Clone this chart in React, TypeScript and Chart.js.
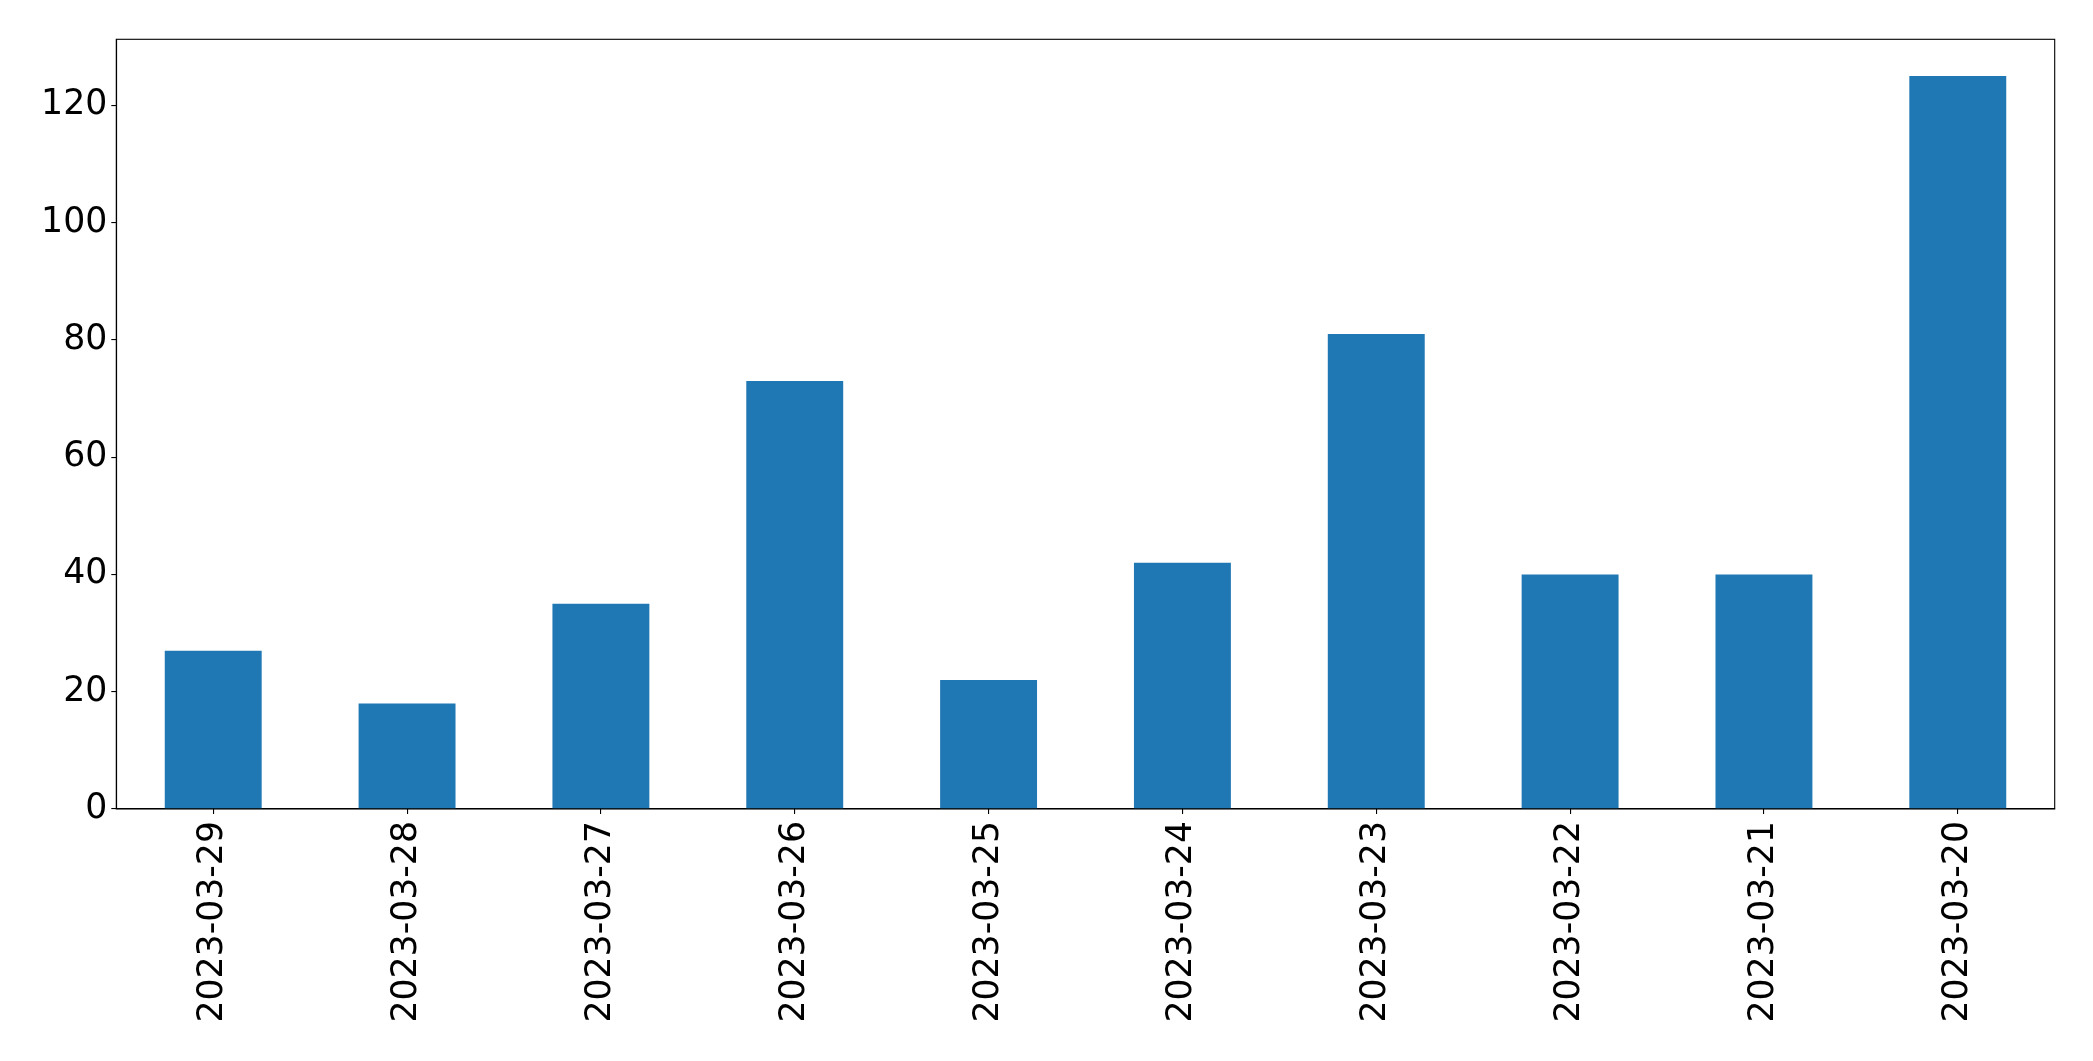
import React, { useEffect, useRef } from "react";
import { Chart, registerables } from "chart.js";

Chart.register(...registerables);

const categories = [
  "2023-03-29",
  "2023-03-28",
  "2023-03-27",
  "2023-03-26",
  "2023-03-25",
  "2023-03-24",
  "2023-03-23",
  "2023-03-22",
  "2023-03-21",
  "2023-03-20",
];
const counts = [27, 18, 35, 73, 22, 42, 81, 40, 40, 125];
const yTickStep = 20;
const yMax = 131.25;

const W = 2093;
const H = 1061;
const AREA_LEFT = 116.3;
const AREA_TOP = 39.3;
const AREA_RIGHT = 2054.7;
const AREA_BOTTOM = 809;

const frame = {
  id: "frame",
  afterDraw(chart: any) {
    const { ctx, chartArea } = chart;
    ctx.save();
    ctx.strokeStyle = "#000";
    ctx.lineWidth = 1.1;
    ctx.strokeRect(
      chartArea.left,
      chartArea.top,
      chartArea.right - chartArea.left,
      chartArea.bottom - chartArea.top
    );
    ctx.restore();
  },
};

export default function App() {
  const ref = useRef<HTMLCanvasElement | null>(null);

  useEffect(() => {
    document.body.style.margin = "0";
    const font = { family: "'DejaVu Sans'", size: 34.7 };
    const chart = new Chart(ref.current as HTMLCanvasElement, {
      type: "bar",
      data: {
        labels: categories,
        datasets: [
          {
            data: counts,
            backgroundColor: "#1f77b4",
            borderWidth: 0,
            barPercentage: 0.5,
            categoryPercentage: 1,
          },
        ],
      },
      options: {
        animation: false,
        responsive: false,
        maintainAspectRatio: false,
        layout: {
          padding: { left: 0, top: AREA_TOP, right: W - AREA_RIGHT, bottom: 0 },
        },
        plugins: {
          legend: { display: false },
          tooltip: { enabled: false },
        },
        scales: {
          x: {
            offset: true,
            grid: {
              display: true,
              offset: false,
              drawOnChartArea: false,
              drawTicks: true,
              tickLength: 5,
              color: "#000",
              lineWidth: 1.1,
            },
            border: { display: true, color: "#000", width: 1.1 },
            ticks: {
              color: "#000",
              font,
              minRotation: 90,
              maxRotation: 90,
              autoSkip: false,
              padding: 7,
            },
            afterFit: (s: any) => {
              s.height = H - AREA_BOTTOM;
            },
          },
          y: {
            min: 0,
            max: yMax,
            grid: {
              display: true,
              drawOnChartArea: false,
              drawTicks: true,
              tickLength: 5,
              color: "#000",
              lineWidth: 1.1,
            },
            border: { display: true, color: "#000", width: 1.1 },
            ticks: {
              color: "#000",
              font,
              stepSize: yTickStep,
              includeBounds: false,
              padding: 4,
            },
            afterFit: (s: any) => {
              s.width = AREA_LEFT;
            },
          },
        },
      },
      plugins: [frame],
    });
    return () => chart.destroy();
  }, []);

  return (
    <div style={{ position: "absolute", left: 0, top: 0, width: W, height: H, background: "#fff" }}>
      <canvas ref={ref} width={W} height={H} style={{ width: W, height: H, display: "block" }} />
    </div>
  );
}
